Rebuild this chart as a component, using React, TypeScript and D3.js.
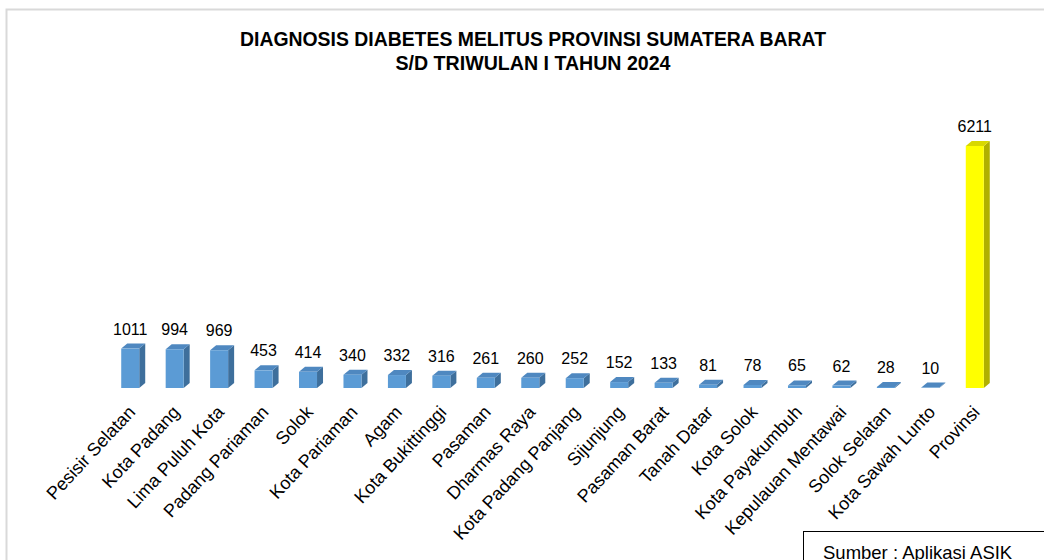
import React from "react";
import * as d3 from "d3";

const categories = [
  "Pesisir Selatan", "Kota Padang", "Lima Puluh Kota", "Padang Pariaman", "Solok",
  "Kota Pariaman", "Agam", "Kota Bukittinggi", "Pasaman", "Dharmas Raya",
  "Kota Padang Panjang", "Sijunjung", "Pasaman Barat", "Tanah Datar", "Kota Solok",
  "Kota Payakumbuh", "Kepulauan Mentawai", "Solok Selatan", "Kota Sawah Lunto", "Provinsi",
];
const values = [1011, 994, 969, 453, 414, 340, 332, 316, 261, 260, 252, 152, 133, 81, 78, 65, 62, 28, 10, 6211];
const titleLines = ["DIAGNOSIS DIABETES MELITUS PROVINSI SUMATERA BARAT", "S/D TRIWULAN I TAHUN 2024"];
const sourceText = "Sumber : Aplikasi ASIK";

const W = 1044, H = 560;
const baseY = 388;
const FONT = "'Liberation Sans', Arial, sans-serif";

export default function App() {
  const x = d3.scaleBand<string>().domain(categories).range([108, 997]).paddingInner(0.6).paddingOuter(0.3);
  const y = d3.scaleLinear().domain([0, 6211]).range([baseY, 146]);
  const bw = 18;
  const dx = 6, dy = 5;
  return (
    <svg width={W} height={H} style={{ position: "absolute", left: 0, top: 0, background: "#fff" }}>
      <rect x={0} y={0} width={W} height={H} fill="#fff" />
      <path d={`M6.5,${H} V9.5 H${W}`} fill="none" stroke="#d9d9d9" strokeWidth={2} />
      {titleLines.map((t, i) => (
        <text key={i} x={533} y={46 + i * 24} textAnchor="middle" fontFamily={FONT} fontWeight="bold" fontSize={20.5}
          textLength={i === 0 ? 586 : 275} lengthAdjust="spacingAndGlyphs" fill="#000">{t}</text>
      ))}
      {categories.map((c, i) => {
        const v = values[i];
        const isProv = c === "Provinsi";
        const cx = x(c)! + x.bandwidth() / 2;
        const x0 = cx - bw / 2, x1 = cx + bw / 2;
        const yt = y(v);
        const front = isProv ? "#ffff00" : "#5b9bd5";
        const side = isProv ? "#b0b000" : "#3e6f9c";
        const top = isProv ? "#d8d800" : "#4f88c0";
        return (
          <g key={c}>
            <path d={`M${x1},${baseY} L${x1 + dx},${baseY - dy} L${x1 + dx},${yt - dy} L${x1},${yt} Z`} fill={side} />
            <path d={`M${x0},${yt} L${x0 + dx},${yt - dy} L${x1 + dx},${yt - dy} L${x1},${yt} Z`} fill={top} />
            <rect x={x0} y={yt} width={bw} height={baseY - yt} fill={front} />
            <text x={cx} y={yt - dy - 9} textAnchor="middle" fontFamily={FONT} fontSize={16} fill="#000">{v}</text>
            <text transform={`translate(${cx + 6},${413}) rotate(-47)`} textAnchor="end" fontFamily={FONT} fontSize={18} fill="#000">{c}</text>
          </g>
        );
      })}
      <rect x={803.5} y={531.5} width={260} height={60} fill="#fff" stroke="#000" strokeWidth={1} />
      <text x={823} y={559} fontFamily={FONT} fontSize={18.5} fill="#000">{sourceText}</text>
    </svg>
  );
}
